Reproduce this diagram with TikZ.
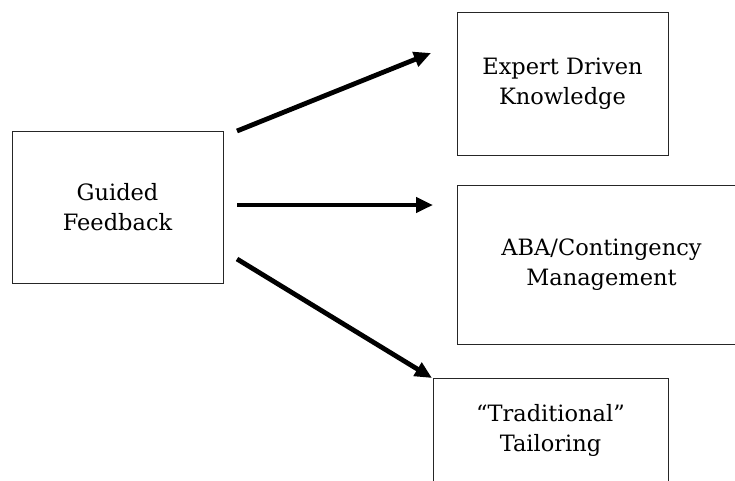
\documentclass[tikz,border=0pt]{standalone}
\usepackage{fontspec}
\setmainfont{DejaVu Serif}
\usetikzlibrary{arrows.meta}
\begin{document}
\begin{tikzpicture}[x=1pt,y=-1pt,
  box/.style={draw=black!85,line width=0.9pt,inner sep=0pt,align=center,
    font=\fontsize{22.5}{30}\selectfont},
  conn/.style={line width=4.8pt,-{Triangle[length=17pt,width=15pt]}}]
\useasboundingbox (0,0) rectangle (735,480);
\clip (0,0) rectangle (735,480);
\node[box,minimum width=211pt,minimum height=152pt] (fb) at (117.5,207) {Guided\\Feedback};
\node[box,minimum width=211pt,minimum height=143pt] (ex) at (562.5,84) {Expert Driven\\Knowledge};
\node[box,minimum width=289pt,minimum height=159pt] (aba) at (601.5,265) {ABA/Contingency\\Management};
\node[box,minimum width=235pt,minimum height=104pt] (tr) at (550.5,430) {``Traditional''\\Tailoring};
\coordinate (s1) at (237,131);
\coordinate (e1) at (431,53);
\coordinate (s2) at (237,205);
\coordinate (e2) at (433,205);
\coordinate (s3) at (237,259);
\coordinate (e3) at (432,378);
\draw[conn] (s1) -- (e1);
\draw[conn] (s2) -- (e2);
\draw[conn] (s3) -- (e3);
\end{tikzpicture}
\end{document}
